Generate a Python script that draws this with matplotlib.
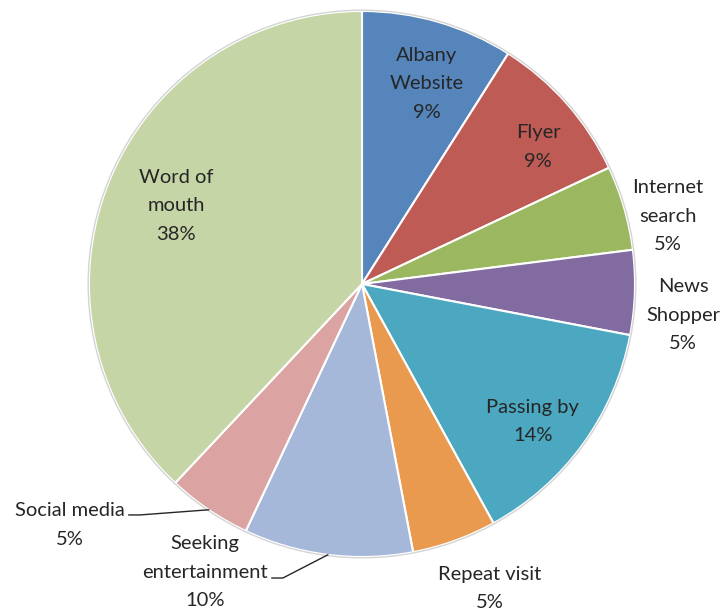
import numpy as np
import matplotlib.pyplot as plt

plt.rcParams['font.family'] = ['Lato', 'DejaVu Sans']

# Where visitors heard about us (share of responses, %)
sources = ["Albany\nWebsite", "Flyer", "Internet\nsearch", "News\nShopper", "Passing by",
           "Repeat visit", "Seeking\nentertainment", "Social media", "Word of\nmouth"]
shares = [9, 9, 5, 5, 14, 5, 10, 5, 38]
colors = ["#5585BB", "#BE5B55", "#9BB860", "#816BA0", "#4BA8C0",
          "#E99A4F", "#A5B8DA", "#DBA3A2", "#C5D5A6"]

# label centres in pie units (radius = 1)
label_xy = [(0.238, 0.733), (0.645, 0.502), (1.12, 0.249), (1.176, -0.114),
            (0.626, -0.505), (0.469, -1.114), (-0.575, -1.055), (-1.07, -0.883),
            (-0.681, 0.286)]
# leader lines: height of the horizontal stub next to the label
leader_y = {6: -1.077, 7: -0.846}

fig = plt.figure(figsize=(7.28, 6.12), dpi=100)
ax = fig.add_axes([0, 0, 1, 1])
r_px = 273.0

wedges, _ = ax.pie(shares, colors=colors, startangle=90, counterclock=False,
                   radius=1.0, center=(0, 0), normalize=True,
                   wedgeprops=dict(edgecolor='white', linewidth=1.5))
ax.add_patch(plt.Circle((0, 0), 1.003, fill=False, edgecolor='#d4d4d4', linewidth=1.0))
ax.set_xlim(-362 / r_px, (728 - 362) / r_px)
ax.set_ylim(-(612 - 284) / r_px, 284 / r_px)
ax.set_aspect('equal')
ax.axis('off')

renderer = fig.canvas.get_renderer()
total = sum(shares)
cum = 0
for i, (name, val) in enumerate(zip(sources, shares)):
    mid = (cum + val / 2) / total * 360
    cum += val
    tx, ty = label_xy[i]
    t = ax.text(tx, ty, f"{name}\n{val}%", ha='center', va='center',
                fontsize=14.5, color='#262626', linespacing=1.8)
    if i in leader_y:
        # leader line from the label's right edge to the wedge edge
        bb = t.get_window_extent(renderer).transformed(ax.transData.inverted())
        x0 = bb.x1 + 0.015
        y0 = leader_y[i]
        ex, ey = np.sin(np.radians(mid)), np.cos(np.radians(mid))
        ax.plot([x0, x0 + 0.04, ex], [y0, y0, ey], color='#262626', linewidth=1.0)

fig.savefig("out.png", dpi=100)
